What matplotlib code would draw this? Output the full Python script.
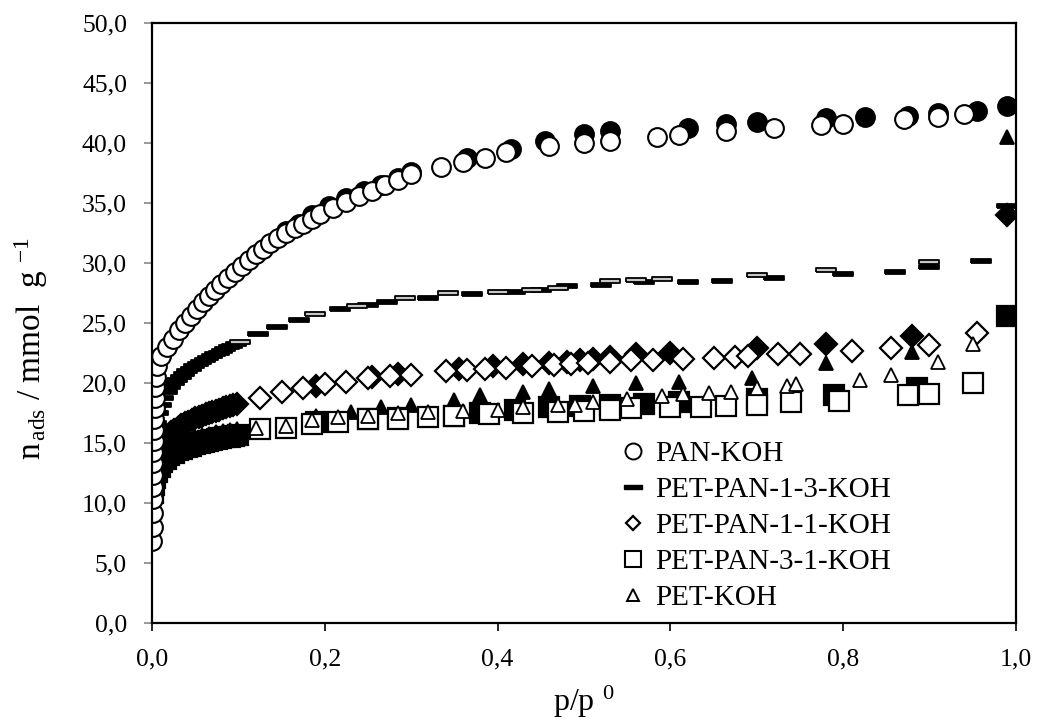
import matplotlib.pyplot as plt
from matplotlib.lines import Line2D
from matplotlib.ticker import FuncFormatter, MultipleLocator

# -------------------------------
# Data
# ads = open markers, des = filled markers
# low-p bands of the four PET/PAN samples are drawn solid (filled)
# -------------------------------
pan_ads_x = [0.0005, 0.0006, 0.0007, 0.0008, 0.0009, 0.001, 0.0012, 0.0015, 0.0018, 0.002, 0.0025,
             0.003, 0.0035, 0.004, 0.005, 0.006, 0.010, 0.017, 0.024, 0.031, 0.038, 0.045, 0.052,
             0.059, 0.066, 0.073, 0.080, 0.088, 0.096, 0.104, 0.112, 0.120, 0.128, 0.137, 0.146,
             0.155, 0.165, 0.175, 0.185, 0.195, 0.21, 0.225, 0.24, 0.255, 0.27, 0.285, 0.30, 0.335,
             0.36, 0.385, 0.41, 0.46, 0.50, 0.53, 0.585, 0.61, 0.665, 0.72, 0.775, 0.80, 0.87,
             0.91, 0.94]
pan_ads_y = [6.8, 8.0, 9.2, 10.3, 11.3, 12.3, 13.3, 14.3, 15.2, 16.1, 17.0,
             17.9, 18.8, 19.7, 20.5, 21.4, 22.3, 23.0, 23.7, 24.4, 25.0, 25.6, 26.2,
             26.8, 27.3, 27.8, 28.3, 28.8, 29.3, 29.8, 30.3, 30.8, 31.2, 31.7, 32.1,
             32.5, 32.9, 33.3, 33.7, 34.1, 34.6, 35.1, 35.6, 36.0, 36.5, 36.9, 37.4, 38.0,
             38.4, 38.8, 39.3, 39.8, 40.0, 40.2, 40.5, 40.7, 41.0, 41.3, 41.5, 41.6, 42.0,
             42.2, 42.4]
pan_des_x = [0.99, 0.955, 0.91, 0.875, 0.825, 0.78, 0.70, 0.665, 0.62, 0.53, 0.50, 0.455, 0.415,
             0.365, 0.30, 0.285, 0.265, 0.245, 0.225, 0.205, 0.185, 0.17, 0.155]
pan_des_y = [43.1, 42.7, 42.5, 42.3, 42.2, 42.1, 41.8, 41.6, 41.3, 41.0, 40.8, 40.2, 39.5,
             38.8, 37.6, 37.1, 36.5, 36.0, 35.4, 34.8, 34.0, 33.3, 32.7]

p13_ads_x = [0.102, 0.189, 0.237, 0.293, 0.343, 0.40, 0.44, 0.47, 0.53, 0.56, 0.59, 0.70, 0.78, 0.90]
p13_ads_y = [23.4, 25.8, 26.4, 27.1, 27.5, 27.6, 27.8, 27.9, 28.5, 28.6, 28.7, 29.0, 29.4, 30.1]
p13_des_x = [0.99, 0.96, 0.90, 0.86, 0.80, 0.72, 0.66, 0.62, 0.57, 0.52, 0.48, 0.45, 0.42, 0.37,
             0.319, 0.272, 0.25, 0.218, 0.17, 0.145, 0.123,
             0.097, 0.093, 0.089, 0.085, 0.081, 0.077, 0.073, 0.069, 0.065, 0.061, 0.057, 0.053,
             0.049, 0.045, 0.041, 0.037, 0.033, 0.029, 0.025, 0.021, 0.017, 0.013, 0.010, 0.007,
             0.005, 0.003, 0.002, 0.001]
p13_des_y = [34.8, 30.2, 29.7, 29.3, 29.1, 28.8, 28.5, 28.4, 28.4, 28.2, 28.1, 27.8, 27.6, 27.4,
             27.1, 26.8, 26.5, 26.2, 25.25, 24.7, 24.1,
             23.25, 23.1, 23.0, 22.85, 22.7, 22.55, 22.4, 22.25, 22.1, 21.95, 21.8, 21.6,
             21.4, 21.2, 21.0, 20.8, 20.55, 20.3, 20.0, 19.7, 19.3, 18.8, 18.2, 17.5,
             16.7, 15.7, 14.4, 12.8]

p11_ads_x = [0.125, 0.15, 0.175, 0.2, 0.225, 0.25, 0.275, 0.3, 0.34, 0.365, 0.385, 0.41, 0.44,
             0.465, 0.485, 0.505, 0.53, 0.555, 0.58, 0.615, 0.65, 0.675, 0.69, 0.725, 0.75, 0.81,
             0.855, 0.9, 0.955]
p11_ads_y = [18.8, 19.3, 19.6, 19.9, 20.1, 20.4, 20.6, 20.7, 21.0, 21.1, 21.2, 21.3, 21.4,
             21.5, 21.6, 21.7, 21.8, 21.9, 21.9, 22.0, 22.1, 22.2, 22.3, 22.4, 22.4, 22.7,
             22.9, 23.2, 24.2]
p11_des_x = [0.99, 0.88, 0.78, 0.70, 0.60, 0.56, 0.53, 0.51, 0.495, 0.48, 0.46, 0.43, 0.395,
             0.355, 0.285, 0.255, 0.19,
             0.098, 0.094, 0.090, 0.086, 0.082, 0.078, 0.074, 0.070, 0.066, 0.062, 0.058, 0.054,
             0.050, 0.046, 0.042, 0.038, 0.034, 0.030, 0.026, 0.022, 0.018, 0.014, 0.010, 0.007,
             0.005, 0.003, 0.002, 0.001]
p11_des_y = [34.0, 23.9, 23.3, 22.9, 22.5, 22.4, 22.2, 22.0, 21.9, 21.8, 21.7, 21.6, 21.4,
             21.2, 20.8, 20.5, 19.8,
             18.3, 18.2, 18.1, 18.0, 17.9, 17.8, 17.7, 17.6, 17.5, 17.4, 17.3, 17.2,
             17.1, 16.95, 16.8, 16.65, 16.5, 16.3, 16.1, 15.9, 15.6, 15.3, 14.9, 14.4,
             13.9, 13.2, 12.5, 11.6]

p31_ads_x = [0.125, 0.155, 0.185, 0.215, 0.25, 0.285, 0.32, 0.35, 0.39, 0.43, 0.47, 0.5, 0.53,
             0.555, 0.6, 0.635, 0.665, 0.7, 0.74, 0.795, 0.875, 0.9, 0.95]
p31_ads_y = [16.2, 16.3, 16.6, 16.8, 17.0, 17.0, 17.2, 17.3, 17.4, 17.5, 17.6, 17.7, 17.8,
             17.9, 18.0, 18.0, 18.1, 18.2, 18.4, 18.5, 19.0, 19.1, 20.0]
p31_des_x = [0.99, 0.885, 0.79, 0.70, 0.61, 0.57, 0.53, 0.495, 0.46, 0.42, 0.38, 0.35, 0.285,
             0.25, 0.19,
             0.100, 0.095, 0.090, 0.085, 0.080, 0.075, 0.070, 0.065, 0.060, 0.055, 0.050, 0.045,
             0.040, 0.035, 0.030, 0.025, 0.020, 0.016, 0.012, 0.009, 0.006, 0.004, 0.002, 0.001]
p31_des_y = [25.6, 19.6, 19.0, 18.7, 18.4, 18.3, 18.2, 18.1, 18.0, 17.8, 17.5, 17.3, 17.1,
             17.0, 16.8,
             15.7, 15.6, 15.55, 15.5, 15.4, 15.35, 15.3, 15.2, 15.1, 15.0, 14.9, 14.8,
             14.7, 14.55, 14.4, 14.2, 14.0, 13.7, 13.4, 13.0, 12.6, 12.1, 11.5, 10.8]

pet_ads_x = [0.12, 0.155, 0.185, 0.215, 0.25, 0.285, 0.32, 0.36, 0.4, 0.43, 0.47, 0.49, 0.51,
             0.55, 0.59, 0.615, 0.645, 0.67, 0.7, 0.735, 0.745, 0.82, 0.855, 0.91, 0.95]
pet_ads_y = [16.3, 16.4, 16.9, 17.2, 17.3, 17.5, 17.6, 17.7, 17.8, 18.0, 18.2, 18.2, 18.4,
             18.7, 18.9, 19.1, 19.2, 19.3, 19.6, 19.8, 19.9, 20.3, 20.7, 21.8, 23.3]
pet_des_x = [0.99, 0.88, 0.78, 0.695, 0.61, 0.56, 0.51, 0.46, 0.43, 0.38, 0.35, 0.30, 0.265,
             0.23, 0.19,
             0.098, 0.090, 0.082, 0.074, 0.066, 0.058, 0.050, 0.042, 0.034, 0.026, 0.018, 0.012,
             0.007, 0.004, 0.002, 0.001]
pet_des_y = [40.5, 22.6, 21.7, 20.4, 20.1, 20.0, 19.8, 19.5, 19.3, 19.0, 18.6, 18.2, 18.0,
             17.6, 17.3,
             16.2, 16.1, 16.0, 15.9, 15.8, 15.7, 15.5, 15.3, 15.1, 14.8, 14.4, 13.9,
             13.3, 12.6, 11.9, 11.1]

labels = ['PAN-KOH', 'PET-PAN-1-3-KOH', 'PET-PAN-1-1-KOH', 'PET-PAN-3-1-KOH', 'PET-KOH']

# flat dash marker (outlined bar)
dash = [(-1, -0.22), (1, -0.22), (1, 0.22), (-1, 0.22), (-1, -0.22)]

plt.rcParams['font.family'] = 'Liberation Serif'
plt.rcParams['mathtext.fontset'] = 'custom'
plt.rcParams['mathtext.rm'] = 'Liberation Serif'
plt.rcParams['mathtext.it'] = 'Liberation Serif:italic'

fig = plt.figure(figsize=(10.37, 7.27), dpi=100)
ax = fig.add_axes([0.1466, 0.143, 0.833, 0.825])

series = [
    (pan_ads_x, pan_ads_y, pan_des_x, pan_des_y, 'o', 13.5, 1.5),
    (p13_ads_x, p13_ads_y, p13_des_x, p13_des_y, dash, 14.5, 1.3),
    (p11_ads_x, p11_ads_y, p11_des_x, p11_des_y, 'D', 11.0, 1.6),
    (p31_ads_x, p31_ads_y, p31_des_x, p31_des_y, 's', 14.0, 1.6),
    (pet_ads_x, pet_ads_y, pet_des_x, pet_des_y, '^', 9.5, 1.3),
]

for ax_x, ax_y, dx, dy, mk, ms, mew in series:
    ax.plot(dx, dy, ls='none', marker=mk, ms=ms, mfc='black', mec='black', mew=mew)
for ax_x, ax_y, dx, dy, mk, ms, mew in series:
    face = '#c8c8c8' if mk is dash else 'white'
    ax.plot(ax_x, ax_y, ls='none', marker=mk, ms=ms, mfc=face, mec='black', mew=mew)

ax.set_xlim(0, 1.0)
ax.set_ylim(0, 50)
ax.xaxis.set_major_locator(MultipleLocator(0.2))
ax.yaxis.set_major_locator(MultipleLocator(5))
comma = FuncFormatter(lambda v, pos: f'{v:.1f}'.replace('.', ','))
ax.xaxis.set_major_formatter(comma)
ax.yaxis.set_major_formatter(comma)
ax.tick_params(axis='x', direction='out', length=6, width=1.2, labelsize=18.5, pad=12)
ax.tick_params(axis='y', direction='out', length=6, width=1.2, color='#888888', labelsize=18.5, pad=12)
for s in ax.spines.values():
    s.set_linewidth(1.6)
    s.set_color('black')

ax.set_xlabel(r'p/p $^{0}$', fontsize=23, labelpad=10)
ax.set_ylabel(r'n$_{\,\mathrm{ads}}$ / mmol  g $^{\mathrm{-1}}$', fontsize=24, labelpad=8)
ax.yaxis.set_label_coords(-0.118, 0.458)

handles = [
    Line2D([], [], ls='none', marker='o', ms=11.5, mfc='white', mec='black', mew=1.4),
    Line2D([], [], ls='none', marker=dash, ms=13, mfc='black', mec='black', mew=1.0),
    Line2D([], [], ls='none', marker='D', ms=7.5, mfc='white', mec='black', mew=1.6),
    Line2D([], [], ls='none', marker='s', ms=12, mfc='white', mec='black', mew=1.5),
    Line2D([], [], ls='none', marker='^', ms=8, mfc='white', mec='black', mew=1.4),
]
fig.legend(handles, labels, loc='upper left', bbox_to_anchor=(0.601, 0.394), frameon=False,
           fontsize=21, handlelength=0.7, handletextpad=0.4, labelspacing=0.33,
           borderaxespad=0, borderpad=0)

fig.savefig('out.png', dpi=100)
